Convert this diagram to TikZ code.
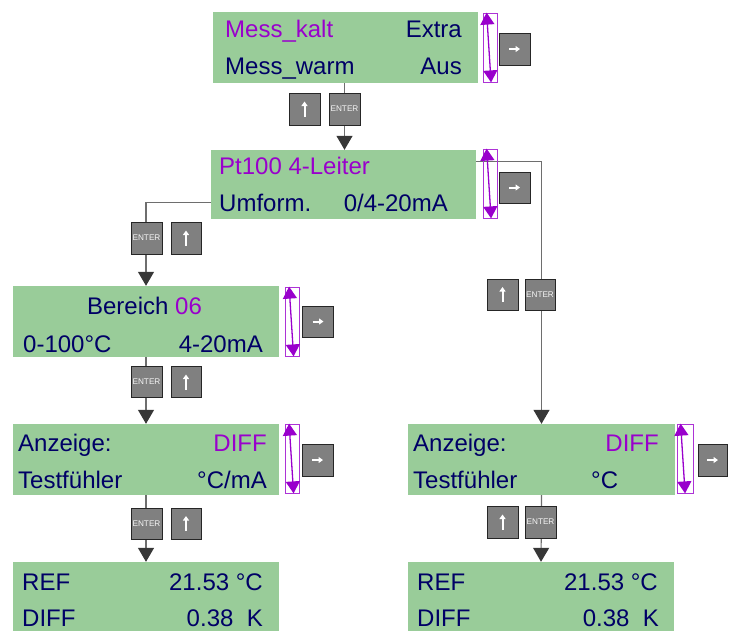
\documentclass[tikz,border=0pt]{standalone}
\usepackage{fontspec}
\setmainfont{Liberation Sans}
\usetikzlibrary{arrows.meta,calc}
\definecolor{lcdgreen}{RGB}{153,204,153}
\definecolor{navy}{RGB}{0,0,102}
\definecolor{purp}{RGB}{153,0,204}
\definecolor{keygray}{RGB}{128,128,128}
\definecolor{linegray}{RGB}{110,110,110}
\definecolor{headgray}{RGB}{55,55,55}
\begin{document}
\begin{tikzpicture}[x=1pt,y=-1pt,
  lcdbox/.style={fill=lcdgreen, draw=none, minimum width=266pt, minimum height=70pt, inner sep=0pt},
  keybox/.style={fill=keygray, draw=black!85, line width=0.8pt, minimum width=31pt, minimum height=31pt, inner sep=0pt},
  enterbox/.style={keybox, font=\fontsize{8.2}{9}\selectfont, text=white!92!gray},
  indbox/.style={draw=purp!80, line width=0.8pt, minimum width=14pt, minimum height=69pt, inner sep=0pt},
  indarrow/.style={draw=purp, line width=1.3pt, {Triangle[width=14pt,length=12pt]}-{Triangle[width=14pt,length=12pt]}},
  conn/.style={draw=linegray, line width=1.2pt, -{Triangle[width=16pt,length=14pt,color=headgray]}},
  keyarrow/.style={draw=white, line width=2pt, -{Triangle[width=6pt,length=4.5pt]}},
  txt/.style={font=\fontsize{24}{28}\selectfont, text=navy, inner sep=0pt},
  ptxt/.style={txt, text=purp}
]
\useasboundingbox (0,0) rectangle (736,630);

% LCD boxes
\node[lcdbox, minimum width=265pt, minimum height=71pt] (b1) at (345.5,47.5) {};
\node[lcdbox, minimum width=265pt, minimum height=69pt] (b2) at (343.5,184.5) {};
\node[lcdbox, minimum height=71pt] (b3) at (146,321.5) {};
\node[lcdbox, minimum height=71pt] (b4) at (146,459.5) {};
\node[lcdbox, minimum width=267pt, minimum height=71pt] (b5) at (541.5,459.5) {};
\node[lcdbox] (b6) at (146,597) {};
\node[lcdbox] (b7) at (541,597) {};

% connectors
\coordinate (c1) at ($(b1.south)+(-1,0)$);
\coordinate (l2) at ($(b2.south west)+(0,-17)$);
\coordinate (r2) at ($(b2.north east)+(0,12)$);
\draw[conn] (c1) -- (c1 |- b2.north);
\draw[conn] (l2) -| (b3.north);
\draw[conn] (r2) -| (b5.north);
\draw[conn] (b3.south) -- (b4.north);
\draw[conn] (b4.south) -- (b6.north);
\draw[conn] (b5.south) -- (b7.north);

% scroll indicators
\node[indbox] (s1) at (490,47.5) {};
\node[indbox] (s2) at (490,183.5) {};
\node[indbox] (s3) at (292.5,321.5) {};
\node[indbox] (s4) at (292.5,458.5) {};
\node[indbox, minimum width=16pt] (s5) at (685,458.5) {};
\foreach \s in {s1,s2,s3,s4,s5}
  \draw[indarrow] ($(\s.north west)+(4,0)$) -- ($(\s.south west)+(8.5,0)$);

% right keys
\node[keybox, minimum height=32pt] (rk1) at (514.5,49) {};
\node[keybox] (rk2) at (514.5,187.5) {};
\node[keybox] (rk3) at (318,321.5) {};
\node[keybox, minimum height=32pt] (rk4) at (317.5,460) {};
\node[keybox, minimum width=29pt, minimum height=32pt] (rk5) at (712.5,460) {};
\foreach \k in {rk1,rk2,rk3,rk4,rk5}
  \draw[keyarrow] ($(\k.center)+(-5.5,0)$) -- ($(\k.center)+(5.5,0)$);

% up / enter keys
\node[keybox, minimum height=32pt] (u1) at (304.5,109) {};
\node[enterbox, minimum height=32pt] (e1) at (344.5,109) {ENTER};
\node[enterbox, minimum height=32pt] (e2) at (146.5,238) {ENTER};
\node[keybox, minimum width=30pt, minimum height=32pt] (u2) at (186,238) {};
\node[enterbox] (e3) at (146.5,382) {ENTER};
\node[keybox, minimum width=30pt] (u3) at (186,382) {};
\node[enterbox] (e4) at (146.5,523.5) {ENTER};
\node[keybox, minimum width=30pt] (u4) at (186,523.5) {};
\node[keybox] (u5) at (502.5,294.5) {};
\node[enterbox, minimum width=30pt] (e5) at (540,294.5) {ENTER};
\node[keybox, minimum height=32pt] (u6) at (502.5,522) {};
\node[enterbox, minimum height=32pt] (e6) at (540.5,522) {ENTER};
\foreach \k in {u1,u2,u3,u4,u5,u6}
  \draw[keyarrow] ($(\k.center)+(0,7.5)$) -- ($(\k.center)+(0,-7.5)$);

% texts box 1
\node[ptxt, anchor=base west] (t1a) at (225,37) {Mess\_kalt};
\node[txt, anchor=base east] (t1b) at (462,37) {Extra};
\node[txt, anchor=base west] (t1c) at (225,74) {Mess\_warm};
\node[txt, anchor=base east] (t1d) at (462,74) {Aus};
% box 2
\node[ptxt, anchor=base west] (t2a) at (219,174) {Pt100 4-Leiter};
\node[txt, anchor=base west] (t2b) at (219,211) {Umform.};
\node[txt, anchor=base east] (t2c) at (448,211) {0/4-20mA};
% box 3
\node[txt, anchor=base] (t3a) at (144.5,314) {Bereich \textcolor{purp}{06}};
\node[txt, anchor=base west] (t3b) at (23,352) {0-100°C};
\node[txt, anchor=base east] (t3c) at (263,352) {4-20mA};
% box 4
\node[txt, anchor=base west] (t4a) at (18,451) {Anzeige:};
\node[ptxt, anchor=base east] (t4b) at (267,451) {DIFF};
\node[txt, anchor=base west] (t4c) at (18,488) {Testfühler};
\node[txt, anchor=base east] (t4d) at (267,488) {°C/mA};
% box 5
\node[txt, anchor=base west] (t5a) at (413,451) {Anzeige:};
\node[ptxt, anchor=base east] (t5b) at (659,451) {DIFF};
\node[txt, anchor=base west] (t5c) at (413,488) {Testfühler};
\node[txt, anchor=base west] (t5d) at (591,488) {°C};
% box 6
\node[txt, anchor=base west] (t6a) at (22,590) {REF};
\node[txt, anchor=base east] (t6b) at (263,590) {21.53 °C};
\node[txt, anchor=base west] (t6c) at (22,626) {DIFF};
\node[txt, anchor=base east] (t6d) at (263,626) {0.38\ \ K};
% box 7
\node[txt, anchor=base west] (t7a) at (417,590) {REF};
\node[txt, anchor=base east] (t7b) at (658,590) {21.53 °C};
\node[txt, anchor=base west] (t7c) at (417,626) {DIFF};
\node[txt, anchor=base east] (t7d) at (659,626) {0.38\ \ K};
\end{tikzpicture}
\end{document}
